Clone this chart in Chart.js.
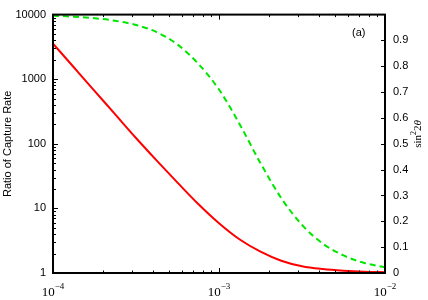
<!DOCTYPE html>
<html>
<head>
<meta charset="utf-8">
<script src="https://cdn.jsdelivr.net/npm/chart.js@4/dist/chart.umd.min.js"></script>
<style>
  body { margin: 0; background: #fff; }
  canvas { display: block; }
</style>
</head>
<body>
<canvas id="chart" width="428" height="300"></canvas>
<script>
// x values (log spaced)
let xVals = [1e-4, 1.334e-4, 1.778e-4, 2.371e-4, 3.162e-4, 4.217e-4, 5.623e-4, 7.499e-4,
             1e-3, 1.334e-3, 1.778e-3, 2.371e-3, 3.162e-3, 4.217e-3, 5.623e-3, 7.499e-3, 1e-2];
// red curve, left axis
let ratioVals = [3550, 1530, 661, 285, 123, 55, 25.1, 11.7,
                 5.9, 3.3, 2.14, 1.55, 1.27, 1.15, 1.085, 1.047, 1.03];
// green dashed curve, right axis
let sinVals = [0.996, 0.992, 0.986, 0.976, 0.96, 0.932, 0.884, 0.81,
               0.71, 0.575, 0.425, 0.29, 0.186, 0.114, 0.068, 0.039, 0.022];

let xTicks = [1e-4, 1e-3, 1e-2];
let xTickExp = ['\u22124', '\u22123', '\u22122'];
let yTicks = [1, 10, 100, 1000, 10000];
let y2Ticks = [0, 0.1, 0.2, 0.3, 0.4, 0.5, 0.6, 0.7, 0.8, 0.9];

const sans = '"Liberation Sans", Arial, sans-serif';
const serif = '"Liberation Serif", "Times New Roman", serif';

// frame, tick marks, x labels, titles
const framePlugin = {
  id: 'framePlugin',
  afterDraw(chart) {
    const { ctx, chartArea: a, scales } = chart;
    const sx = scales.x, sy = scales.y, sy2 = scales.y2;
    ctx.save();
    ctx.strokeStyle = '#000';
    ctx.fillStyle = '#000';
    ctx.lineWidth = 1;

    // x ticks bottom and top
    for (let d = 1e-4; d < 1e-2 * 0.99; d *= 10) {
      for (let m = 1; m <= 9; m++) {
        let px = Math.round(sx.getPixelForValue(m * d)) + 0.5;
        let len = m === 1 ? 5 : 2.5;
        ctx.beginPath();
        ctx.moveTo(px, a.bottom); ctx.lineTo(px, a.bottom - len);
        ctx.moveTo(px, a.top); ctx.lineTo(px, a.top + len);
        ctx.stroke();
      }
    }
    // left log ticks
    for (let d = 1; d < 10000 * 0.99; d *= 10) {
      for (let m = 1; m <= 9; m++) {
        let py = Math.round(sy.getPixelForValue(m * d)) + 0.5;
        let len = m === 1 ? 5 : 3;
        ctx.beginPath();
        ctx.moveTo(a.left, py); ctx.lineTo(a.left + len, py);
        ctx.stroke();
      }
    }
    // right linear ticks
    y2Ticks.forEach(v => {
      let py = Math.round(sy2.getPixelForValue(v)) + 0.5;
      ctx.beginPath();
      ctx.moveTo(a.right, py); ctx.lineTo(a.right - 4, py);
      ctx.stroke();
    });

    // frame
    ctx.lineWidth = 2;
    ctx.strokeRect(a.left, a.top, a.right - a.left, a.bottom - a.top);

    // x tick labels 10^n
    xTicks.forEach((v, i) => {
      let px = sx.getPixelForValue(v);
      ctx.font = '13px ' + serif;
      let w1 = ctx.measureText('10').width;
      ctx.font = '9px ' + serif;
      let w2 = ctx.measureText(xTickExp[i]).width;
      let x0 = px - (w1 + w2) / 2;
      ctx.textAlign = 'left';
      ctx.textBaseline = 'alphabetic';
      ctx.font = '13px ' + serif;
      ctx.fillText('10', x0, 296);
      ctx.font = '9px ' + serif;
      ctx.fillText(xTickExp[i], x0 + w1, 289);
    });

    // left title
    ctx.save();
    ctx.translate(8, (a.top + a.bottom) / 2);
    ctx.rotate(-Math.PI / 2);
    ctx.font = '11px ' + sans;
    ctx.textAlign = 'center';
    ctx.textBaseline = 'middle';
    ctx.fillText('Ratio of Capture Rate', 0, 0);
    ctx.restore();

    // right title sin^2 2θ
    ctx.save();
    ctx.translate(417, 134);
    ctx.rotate(-Math.PI / 2);
    ctx.textAlign = 'left';
    ctx.textBaseline = 'alphabetic';
    let parts = [
      { t: 'sin', f: '11px ' + serif, dy: 0 },
      { t: '2', f: '8px ' + serif, dy: -5 },
      { t: '2', f: '11px ' + serif, dy: 0 },
      { t: '\u03B8', f: 'italic 11px ' + serif, dy: 0 }
    ];
    let tw = 0;
    parts.forEach(p => { ctx.font = p.f; p.w = ctx.measureText(p.t).width; tw += p.w; });
    let cx = -tw / 2;
    parts.forEach(p => { ctx.font = p.f; ctx.fillText(p.t, cx, 4 + p.dy); cx += p.w; });
    ctx.restore();

    // panel label
    ctx.font = '11px ' + sans;
    ctx.textAlign = 'left';
    ctx.textBaseline = 'middle';
    ctx.fillText('(a)', 352, 33);

    ctx.restore();
  }
};

const chartData = {
  datasets: [{
    label: 'Ratio of Capture Rate',
    data: xVals.map((x, i) => ({ x: x, y: ratioVals[i] })),
    yAxisID: 'y',
    borderColor: '#ff0000',
    borderWidth: 2,
    pointRadius: 0,
    cubicInterpolationMode: 'monotone',
    fill: false
  },
  {
    label: 'sin22θ',
    data: xVals.map((x, i) => ({ x: x, y: sinVals[i] })),
    yAxisID: 'y2',
    borderColor: '#00e600',
    borderWidth: 2,
    borderDash: [6, 4],
    pointRadius: 0,
    cubicInterpolationMode: 'monotone',
    fill: false
  }]
};

const config = {
  type: 'line',
  data: chartData,
  options: {
    responsive: false,
    animation: false,
    layout: { padding: { top: 10, left: 0, right: 0, bottom: 0 } },
    plugins: {
      legend: { display: false },
      tooltip: { enabled: false }
    },
    scales: {
      x: {
        type: 'logarithmic',
        min: 1e-4,
        max: 1e-2,
        grid: { display: false, drawTicks: false },
        border: { display: false },
        ticks: { display: false },
        afterFit: s => { s.height = 27; }
      },
      y: {
        type: 'logarithmic',
        position: 'left',
        min: 1,
        max: 10000,
        grid: { display: false, drawTicks: false },
        border: { display: false },
        afterBuildTicks: s => { s.ticks = yTicks.map(v => ({ value: v })); },
        ticks: {
          padding: 7,
          color: '#000',
          font: { family: sans, size: 11 },
          callback: v => String(v)
        },
        afterFit: s => { s.width = 53; }
      },
      y2: {
        type: 'linear',
        position: 'right',
        min: 0,
        max: 1,
        grid: { display: false, drawTicks: false },
        border: { display: false },
        afterBuildTicks: s => { s.ticks = y2Ticks.map(v => ({ value: v })); },
        ticks: {
          padding: 8,
          color: '#000',
          font: { family: sans, size: 11 },
          callback: v => v === 0 ? '0' : v.toFixed(1)
        },
        afterFit: s => { s.width = 43; }
      }
    }
  },
  plugins: [framePlugin]
};

let chart = new Chart(document.getElementById('chart'), config);
</script>
</body>
</html>
